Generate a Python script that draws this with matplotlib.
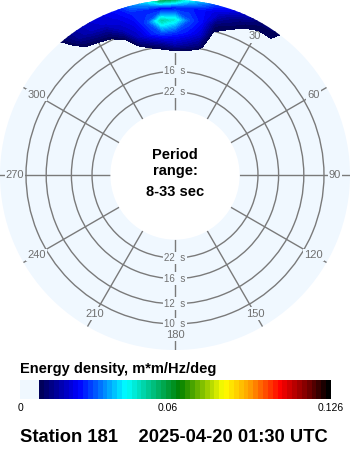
import numpy as np
import matplotlib
matplotlib.use("Agg")
import matplotlib as mpl
import matplotlib.pyplot as plt
from matplotlib.colors import LinearSegmentedColormap, Normalize

# spectrum grid (m*m/Hz/deg)
freqs = [0.075, 0.085, 0.095, 0.105, 0.115, 0.125]
dirs = [-45, -40, -35, -30, -25, -20, -15, -10, -5, 0, 5, 10, 15, 20, 25, 30, 35, 40]
e_075 = [0, 0, 0, 0, 0, 0, 0, 0, 0, 0, 0, 0, 0, 0, 0, 0, 0, 0]
e_085 = [0, 0, 0, 0, 0.001, 0.002, 0.006, 0.0093, 0.0128, 0.017, 0.0146, 0.0113,
         0.003, 0, 0, 0, 0, 0]
e_095 = [0, 0, 0.001, 0.002, 0.003, 0.007, 0.018, 0.025, 0.03, 0.028, 0.025, 0.02,
         0.006, 0.003, 0.001, 0, 0, 0]
e_105 = [0, 0.001, 0.007, 0.009, 0.011, 0.018, 0.022, 0.03, 0.05, 0.045, 0.03, 0.024,
         0.0103, 0.008, 0.005, 0.002, 0.001, 0]
e_115 = [0.002, 0.006, 0.014, 0.018, 0.02, 0.022, 0.026, 0.026, 0.022, 0.024, 0.026, 0.024,
         0.02, 0.014, 0.01, 0.008, 0.008, 0.002]
e_125 = [0.005, 0.010, 0.016, 0.02, 0.022, 0.026, 0.036, 0.046, 0.075, 0.07, 0.05, 0.04,
         0.03, 0.026, 0.02, 0.012, 0.011, 0.005]

ring_periods = [22, 16, 12, 10]
spoke_angles = [0, 30, 60, 90, 120, 150, 180, 210, 240, 270, 300, 330]
spoke_labels = ["0", "30", "60", "90", "120", "150", "180", "210", "240", "270", "300", "330"]
cbar_ticks = [0, 0.06, 0.126]
cbar_labels = ["0", "0.06", "0.126"]
vmax = 0.126
title = "Energy density, m*m/Hz/deg"
footer = "Station 181    2025-04-20 01:30 UTC"

BG = "#f0f8ff"
GRID = "#7a7a7a"
FONT = "Liberation Sans"


def make_cmap():
    stops = [(0.0, BG), (0.0625, BG), (0.0626, "#000059"), (0.186, "#0000ff"),
             (0.338, "#00ffff"), (0.514, "#008000"), (0.659, "#ffff00"),
             (0.746, "#ff9900"), (0.842, "#ff0000"), (0.926, "#800000"),
             (1.0, "#000000")]
    return LinearSegmentedColormap.from_list("wave", stops, N=64)


def main():
    fig = plt.figure(figsize=(3.5, 4.5), dpi=100)
    cmap = make_cmap()
    norm = Normalize(0, vmax)

    ax = fig.add_axes([0, 100 / 450, 1, 350 / 450], projection="polar")
    ax.set_theta_zero_location("N")
    ax.set_theta_direction(-1)
    ax.set_ylim(1 / 33, 0.1215)
    ax.set_rorigin(-0.0231)
    ax.set_facecolor(BG)

    ax.set_thetagrids(spoke_angles, labels=[])
    ax.set_rgrids([1 / p for p in ring_periods], labels=[])
    ax.grid(color=GRID, lw=1.0)

    for a, lab in zip(spoke_angles, spoke_labels):
        ax.text(np.deg2rad(a), 0.1091, lab, ha="center", va="center", fontsize=8,
                family=FONT, color="#707070", zorder=3,
                bbox=dict(boxstyle="square,pad=0.1", fc=BG, ec="none"))
    for p in ring_periods:
        for a in (0, 180):
            ax.text(np.deg2rad(a), 1 / p, f"{p}  s", ha="center", va="center",
                    fontsize=7, family=FONT, color="#707070", zorder=3,
                    bbox=dict(boxstyle="square,pad=0.15", fc=BG, ec="none"))

    energy = np.array([e_075, e_085, e_095, e_105, e_115, e_125])
    levels = np.linspace(0, vmax, 65)[4:]
    ax.contourf(np.deg2rad(dirs), freqs, energy, levels=levels, cmap=cmap,
                norm=norm, zorder=4)

    for s in ax.spines.values():
        s.set_visible(False)
        s.set_edgecolor("none")

    # centre label
    for txt, y in [("Period", 159), ("range:", 175), ("8-33 sec", 196)]:
        fig.text(0.5, 1 - y / 450, txt, ha="center", va="baseline",
                 fontsize=10.5, fontweight="bold", family=FONT)

    fig.text(20 / 350, 1 - 369 / 450, title, ha="left", va="center",
             fontsize=10.5, fontweight="bold", family=FONT)

    cax = fig.add_axes([20 / 350, 51 / 450, 311 / 350, 19 / 450])
    cb = fig.colorbar(mpl.cm.ScalarMappable(norm=norm, cmap=cmap), cax=cax,
                      orientation="horizontal")
    cb.outline.set_visible(False)
    cb.set_ticks(cbar_ticks)
    cb.set_ticklabels(cbar_labels)
    cax.tick_params(length=0, pad=3, labelsize=7.5)
    for t in cax.get_xticklabels():
        t.set_family(FONT)

    fig.text(20 / 350, 1 - 438 / 450, footer, ha="left", va="center",
             fontsize=13.2, fontweight="bold", family=FONT)

    fig.savefig("out.png", dpi=100)
    plt.close(fig)


if __name__ == "__main__":
    main()
